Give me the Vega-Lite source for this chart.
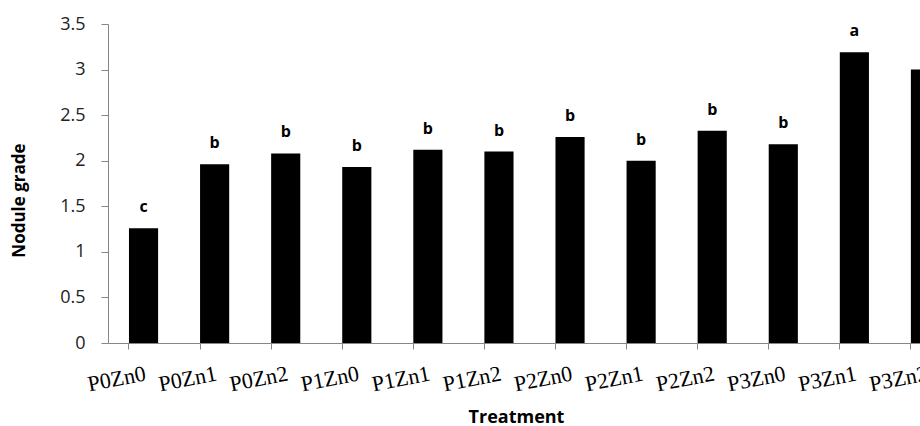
{
  "$schema": "https://vega.github.io/schema/vega-lite/v6.json",
  "autosize": {"type": "none"},
  "padding": {"left": 108, "top": 24, "right": 0, "bottom": 83},
  "width": 812,
  "height": 319,
  "background": "white",
  "data": {"values": [
    {"Treatment": "P0Zn0", "grade": 1.26, "letter": "c"},
    {"Treatment": "P0Zn1", "grade": 1.96, "letter": "b"},
    {"Treatment": "P0Zn2", "grade": 2.08, "letter": "b"},
    {"Treatment": "P1Zn0", "grade": 1.93, "letter": "b"},
    {"Treatment": "P1Zn1", "grade": 2.12, "letter": "b"},
    {"Treatment": "P1Zn2", "grade": 2.10, "letter": "b"},
    {"Treatment": "P2Zn0", "grade": 2.26, "letter": "b"},
    {"Treatment": "P2Zn1", "grade": 2.00, "letter": "b"},
    {"Treatment": "P2Zn2", "grade": 2.33, "letter": "b"},
    {"Treatment": "P3Zn0", "grade": 2.18, "letter": "b"},
    {"Treatment": "P3Zn1", "grade": 3.19, "letter": "a"},
    {"Treatment": "P3Zn2", "grade": 3.00, "letter": "a"}
  ]},
  "config": {"view": {"stroke": null}},
  "encoding": {
    "x": {
      "field": "Treatment", "type": "nominal", "sort": null,
      "scale": {"range": [0, 853], "paddingInner": 0.59, "paddingOuter": 0.295},
      "axis": {
        "title": "Treatment",
        "titleFont": "Open Sans", "titleFontSize": 18, "titleFontWeight": "bold", "titleColor": "#000000",
        "titleX": 408, "titleY": 79, "titleBaseline": "alphabetic",
        "bandPosition": 0,
        "labelOffset": 0,
        "labelAngle": -11, "labelAlign": "right", "labelBaseline": "top",
        "labelFont": "Liberation Serif", "labelFontSize": 22, "labelColor": "#000000",
        "labelPadding": 14,
        "tickSize": 6, "tickColor": "#868686", "domainColor": "#868686",
        "labelOverlap": false, "grid": false
      }
    },
    "y": {
      "field": "grade", "type": "quantitative",
      "scale": {"domain": [0, 3.5], "nice": false},
      "axis": {
        "title": "Nodule grade",
        "titleFont": "Open Sans", "titleFontSize": 17, "titleFontWeight": "bold", "titleColor": "#000000",
        "titleX": -89, "titleY": 176, "titleBaseline": "middle",
        "values": [0, 0.5, 1, 1.5, 2, 2.5, 3, 3.5],
        "format": "~g",
        "labelFont": "Open Sans", "labelFontSize": 18, "labelColor": "#222222",
        "labelPadding": 16,
        "tickSize": 7, "tickColor": "#868686", "domainColor": "#868686",
        "grid": false
      }
    }
  },
  "layer": [
    {"mark": {"type": "bar", "color": "#000000"}},
    {
      "mark": {"type": "text", "baseline": "bottom", "dy": -13, "font": "Open Sans", "fontSize": 16, "fontWeight": "bold", "color": "#000000"},
      "encoding": {"text": {"field": "letter"}}
    }
  ]
}
